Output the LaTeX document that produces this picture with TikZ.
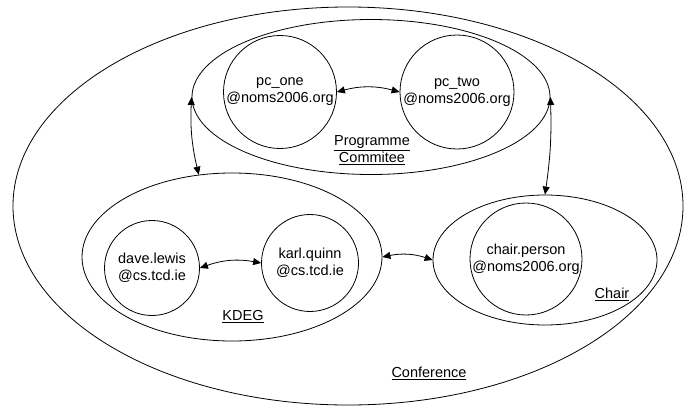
\documentclass[tikz,border=0pt]{standalone}
\usepackage{fontspec}
\setmainfont{Liberation Sans}
\usetikzlibrary{shapes.geometric,arrows.meta}

\begin{document}
\begin{tikzpicture}[x=1pt,y=1pt]
\tikzstyle{every node}+=[inner sep=0pt, font=\fontsize{14.5}{17}\selectfont]
\tikzstyle{group}=[ellipse, draw=black, line width=0.8pt]
\tikzstyle{member}=[circle, draw=black, line width=0.8pt, align=center]
\tikzstyle{link}=[{Triangle[length=8pt,width=7pt]}-{Triangle[length=8pt,width=7pt]}, line width=0.8pt]
\useasboundingbox (0,0) rectangle (688,-407);
\node [group, minimum width=670pt, minimum height=398pt] (conference) at (348,-206) {};
\node [group, minimum width=358pt, minimum height=155pt] (programme) at (371,-97) {};
\node [group, minimum width=300pt, minimum height=168pt] (kdeg) at (232,-257) {};
\node [group, minimum width=224pt, minimum height=130pt] (chair) at (545,-260) {};
\node [member, minimum size=113pt] (pcone) at (280,-92) {pc\_one\\@noms2006.org};
\node [member, minimum size=114pt] (pctwo) at (457,-92) {pc\_two\\@noms2006.org};
\node [member, minimum size=95pt] (dave) at (152,-268) {dave.lewis\\@cs.tcd.ie};
\node [member, minimum size=97pt] (karl) at (310,-263) {karl.quinn\\@cs.tcd.ie};
\node [member, minimum size=112pt] (chairperson) at (526,-259) {chair.person\\@noms2006.org};
\node [align=center] (programmelbl) at (372,-150) {\underline{Programme}\\\underline{Commitee}};
\node (kdeglbl) at (243,-317) {\underline{KDEG}};
\node (chairlbl) at (612,-294) {\underline{Chair}};
\node (conferencelbl) at (429,-373) {\underline{Conference}};
\draw [link] (pcone.east) to [bend left=15] (pctwo.west);
\draw [link] (dave.east) to [bend left=15] (karl.west);
\draw [link] (kdeg.east) to [bend left=15] (chair.west);
\draw [link] (programme.west) to [bend right=8] (kdeg.112);
\draw [link] (programme.east) to [bend left=5] (chair.north);
\end{tikzpicture}
\end{document}
